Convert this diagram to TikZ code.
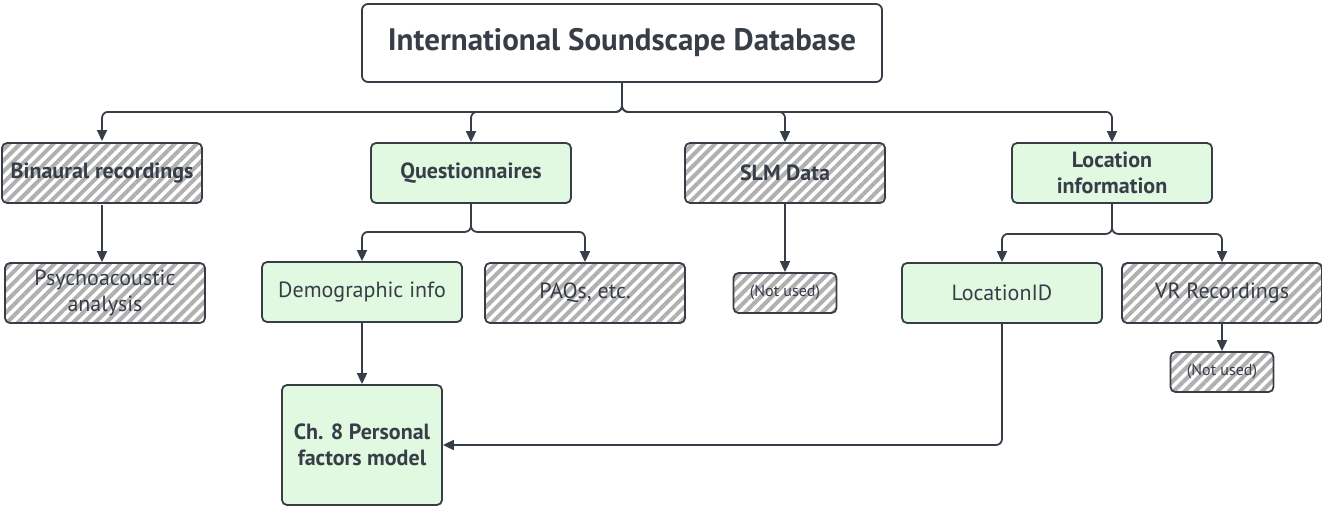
\documentclass[tikz,border=0pt]{standalone}
\usepackage{fontspec}
\setmainfont{PT Sans}
\usepackage{tikz}
\usetikzlibrary{arrows.meta, patterns.meta}
\definecolor{boxgreen}{RGB}{225, 248, 225}
\definecolor{boxedge}{RGB}{56, 62, 72}
\definecolor{hatchgray}{RGB}{176, 176, 176}

\begin{document}
\begin{tikzpicture}[x=1pt, y=-1pt, >={Triangle[length=11pt, width=10pt]},
    box/.style={draw=boxedge, line width=1.8pt, rounded corners=5pt, minimum width=200pt,
        minimum height=60pt, inner sep=0pt, align=center, text=boxedge,
        font=\fontsize{22}{26}\selectfont},
    keep/.style={box, fill=boxgreen},
    drop/.style={box, preaction={fill=white},
        pattern={Lines[angle=45, distance=7.8pt, line width=4pt]}, pattern color=hatchgray},
    head/.style={font=\fontsize{22}{26}\selectfont\bfseries},
    small/.style={minimum width=103pt, minimum height=40pt, font=\fontsize{16}{18}\selectfont},
    conn/.style={->, draw=boxedge, line width=1.8pt, rounded corners=6pt}]
    \useasboundingbox (0,0) rectangle (1322,506);
    % top level
    \node[box, minimum width=520pt, minimum height=78pt, rounded corners=6pt,
        font=\fontsize{31}{36}\selectfont\bfseries] (title) at (622,43) {International Soundscape Database};
    \node[drop, head] (bin) at (102,173) {Binaural recordings};
    \node[keep, head] (quest) at (471,173) {Questionnaires};
    \node[drop, head] (slm) at (785,173) {SLM Data};
    \node[keep, head] (loc) at (1112,173) {Location\\information};
    % second level
    \node[drop] (psy) at (105,293) {Psychoacoustic\\analysis};
    \node[keep] (demo) at (362,292) {Demographic info};
    \node[drop] (paq) at (585,293) {PAQs, etc.};
    \node[drop, small] (slmnu) at (785,293) {(Not used)};
    \node[keep] (locid) at (1002,293) {LocationID};
    \node[drop] (vr) at (1222,293) {VR Recordings};
    \node[drop, small] (vrnu) at (1222,372) {(Not used)};
    \node[keep, head, minimum width=160pt, minimum height=120pt] (ch8) at (362,445) {Ch. 8 Personal\\factors model};
    % connectors
    \draw[conn] (title.south) -- ++(0,29) -| (bin.north);
    \draw[conn] (title.south) -- ++(0,29) -| (quest.north);
    \draw[conn] (title.south) -- ++(0,29) -| (slm.north);
    \draw[conn] (title.south) -- ++(0,29) -| (loc.north);
    \draw[conn] (bin.south) -- (bin.south |- psy.north);
    \draw[conn] (quest.south) -- ++(0,28) -| (demo.north);
    \draw[conn] (quest.south) -- ++(0,28) -| (paq.north);
    \draw[conn] (slm.south) -- (slmnu.north);
    \draw[conn] (loc.south) -- ++(0,30) -| (locid.north);
    \draw[conn] (loc.south) -- ++(0,30) -| (vr.north);
    \draw[conn] (vr.south) -- (vrnu.north);
    \draw[conn] (demo.south) -- (ch8.north);
    \draw[conn] (locid.south) |- (ch8.east);
\end{tikzpicture}
\end{document}
